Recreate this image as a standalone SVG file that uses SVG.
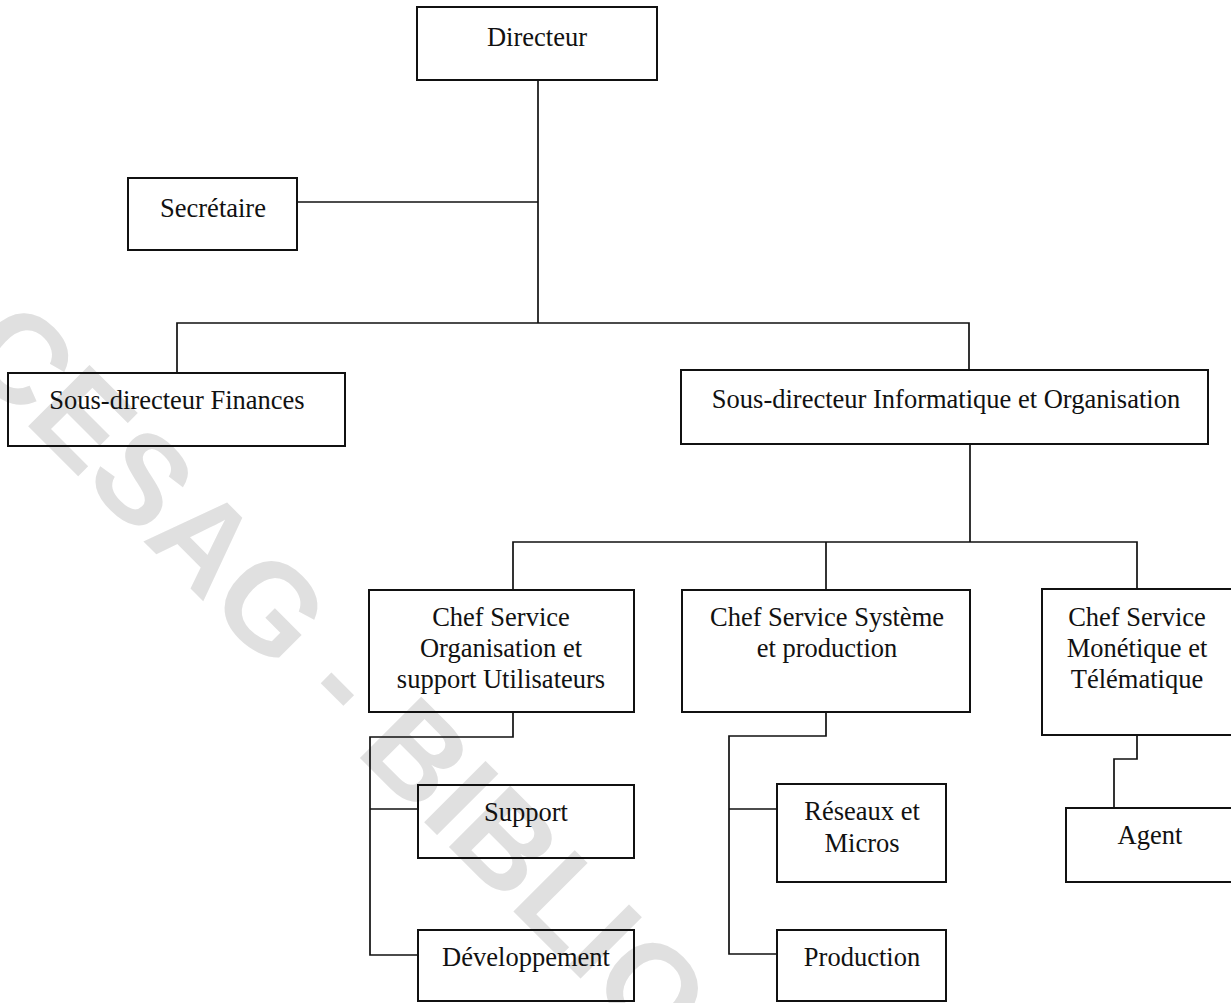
<svg xmlns="http://www.w3.org/2000/svg" width="1231" height="1003" viewBox="0 0 1231 1003">
  <style>
    .box { fill: none; stroke: #111; stroke-width: 2; }
    .lbl { font-family: "Liberation Serif", "Times New Roman", serif; font-size: 26.5px; fill: #111; text-anchor: middle; }
    .link { fill: none; stroke: #111; stroke-width: 1.7; }
    .mark { font-family: "Liberation Sans", Arial, sans-serif; font-weight: bold; font-size: 126px; fill: #e0e0e0; }
  </style>
  <rect x="0" y="0" width="1231" height="1003" fill="#ffffff"/>

  <!-- library stamp running diagonally behind the chart -->
  <text class="mark" transform="translate(-42,356) rotate(45)">CESAG - BIBLIO</text>

  <g id="connectors">
    <!-- Directeur trunk, secretary branch, first level bar -->
    <path class="link" d="M538 80 V323"/>
    <path class="link" d="M297 202 H538"/>
    <path class="link" d="M177 373 V323 H969 V370"/>
    <!-- second level bar under IT sub-director -->
    <path class="link" d="M970 444 V542"/>
    <path class="link" d="M513 590 V542 H1137 V589"/>
    <path class="link" d="M826 542 V590"/>
    <!-- Organisation service children -->
    <path class="link" d="M513 712 V737 H370 V955 H418"/>
    <path class="link" d="M370 809 H418"/>
    <!-- Systeme service children -->
    <path class="link" d="M826 712 V736 H729 V954 H777"/>
    <path class="link" d="M729 809 H777"/>
    <!-- Monetique service child -->
    <path class="link" d="M1137 735 V759 H1114 V808"/>
  </g>

  <g id="directeur">
    <rect class="box" x="417" y="7" width="240" height="73"/>
    <text class="lbl" x="537" y="46">Directeur</text>
  </g>
  <g id="secretaire">
    <rect class="box" x="128" y="178" width="169" height="72"/>
    <text class="lbl" x="213" y="217">Secrétaire</text>
  </g>
  <g id="sd-finances">
    <rect class="box" x="8" y="373" width="337" height="73"/>
    <text class="lbl" x="177" y="409">Sous-directeur Finances</text>
  </g>
  <g id="sd-informatique">
    <rect class="box" x="681" y="370" width="527" height="74"/>
    <text class="lbl" x="946" y="408">Sous-directeur Informatique et Organisation</text>
  </g>
  <g id="cs-organisation">
    <rect class="box" x="369" y="590" width="265" height="122"/>
    <text class="lbl" x="501" y="626">Chef Service</text>
    <text class="lbl" x="501" y="657">Organisation et</text>
    <text class="lbl" x="501" y="688">support Utilisateurs</text>
  </g>
  <g id="cs-systeme">
    <rect class="box" x="682" y="590" width="288" height="122"/>
    <text class="lbl" x="827" y="626">Chef Service Système</text>
    <text class="lbl" x="827" y="657">et production</text>
  </g>
  <g id="cs-monetique">
    <rect class="box" x="1042" y="589" width="191" height="146"/>
    <text class="lbl" x="1137" y="626">Chef Service</text>
    <text class="lbl" x="1137" y="657">Monétique et</text>
    <text class="lbl" x="1137" y="688">Télématique</text>
  </g>
  <g id="support">
    <rect class="box" x="418" y="785" width="216" height="73"/>
    <text class="lbl" x="526" y="821">Support</text>
  </g>
  <g id="developpement">
    <rect class="box" x="418" y="930" width="216" height="71"/>
    <text class="lbl" x="526" y="966">Développement</text>
  </g>
  <g id="reseaux">
    <rect class="box" x="777" y="784" width="169" height="98"/>
    <text class="lbl" x="862" y="820">Réseaux et</text>
    <text class="lbl" x="862" y="852">Micros</text>
  </g>
  <g id="production">
    <rect class="box" x="777" y="930" width="169" height="71"/>
    <text class="lbl" x="862" y="966">Production</text>
  </g>
  <g id="agent">
    <rect class="box" x="1066" y="808" width="167" height="74"/>
    <text class="lbl" x="1150" y="844">Agent</text>
  </g>
</svg>
